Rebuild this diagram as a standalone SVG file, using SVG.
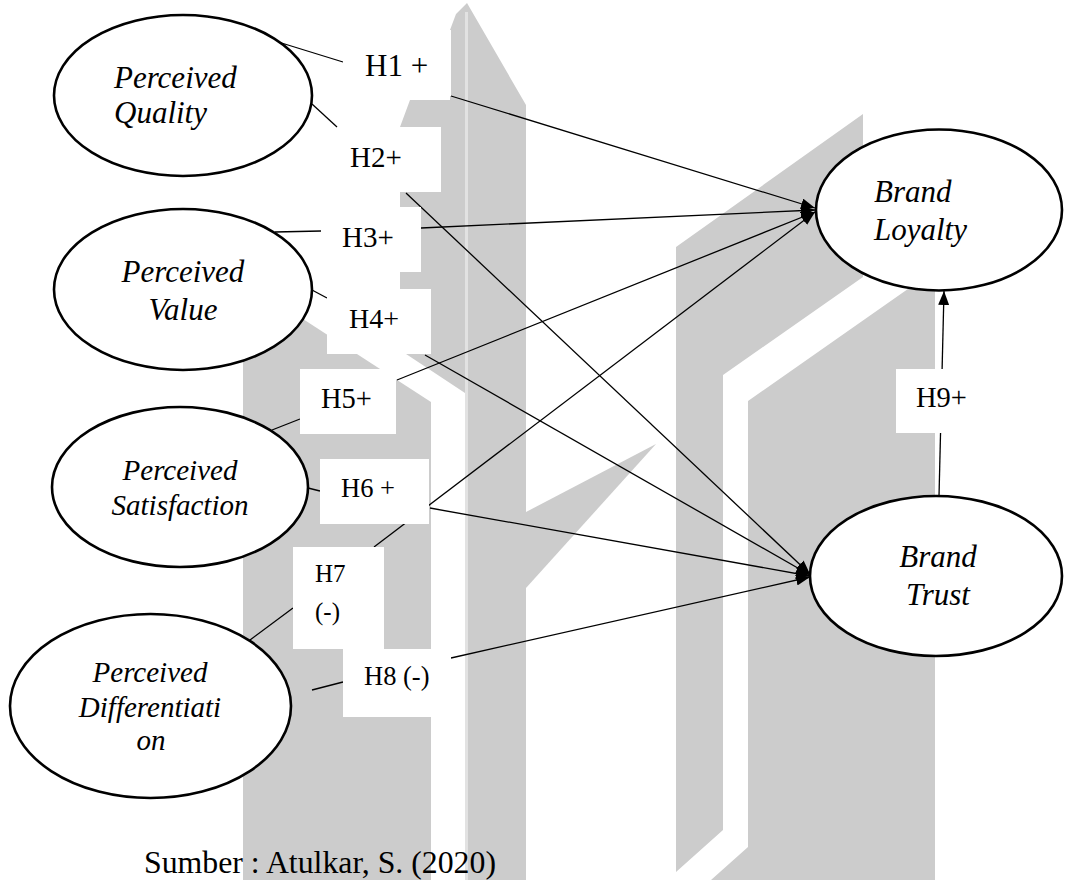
<svg xmlns="http://www.w3.org/2000/svg" width="1065" height="880" viewBox="0 0 1065 880">
<style>
.wm{fill:#cccccc}
.wl{fill:#e2e2e2}
.shape{fill:#fff;stroke:#000;stroke-width:2.6}
.box{fill:#fff}
.edge{stroke:#000;stroke-width:1.3;fill:none}
.arr{marker-end:url(#ah)}
</style>
<defs>
<marker id="ah" markerUnits="userSpaceOnUse" markerWidth="15" markerHeight="11" refX="14" refY="5.5" orient="auto"><path d="M0,0 L14,5.5 L0,11 z" fill="#000"/></marker>
</defs>
<rect width="1065" height="880" fill="#fff"/>
<g id="watermark">
<polygon class="wm" points="400,127 410,100 450,100 450,30 456,14 467,3 526,105 526,880 465,880 465,393 400,350"/>
<rect class="wl" x="465" y="12" width="3" height="868"/>
<polygon class="wm" points="243,280 431,402 431,880 243,880"/>
<polygon class="wm" points="526,512 656,444 526,588"/>
<polygon class="wm" points="676,247 863,114 863,277 723,375 723,830 676,872"/>
<polygon class="wm" points="748,401 935,270 935,880 711,880 748,847"/>
</g>
<g id="connectors">
<line class="edge" x1="275" y1="41" x2="343" y2="62"/>
<line class="edge" x1="312" y1="104" x2="337" y2="127"/>
<line class="edge" x1="275" y1="232" x2="321" y2="231"/>
<line class="edge" x1="312" y1="290" x2="327" y2="298"/>
<line class="edge" x1="272" y1="430" x2="300" y2="419"/>
<line class="edge" x1="308" y1="488" x2="320" y2="491"/>
<line class="edge" x1="250" y1="640" x2="293" y2="608"/>
<line class="edge" x1="312" y1="690" x2="343" y2="682"/>
<line class="edge arr" x1="451" y1="96" x2="815" y2="208"/>
<line class="edge arr" x1="421" y1="228" x2="815" y2="210"/>
<line class="edge arr" x1="397" y1="380" x2="815" y2="212"/>
<line class="edge arr" x1="374" y1="547" x2="815" y2="212"/>
<line class="edge arr" x1="406" y1="193" x2="810" y2="574"/>
<line class="edge arr" x1="425" y1="355" x2="810" y2="575"/>
<line class="edge arr" x1="430" y1="508" x2="810" y2="576"/>
<line class="edge arr" x1="451" y1="658" x2="810" y2="577"/>
<line class="edge arr" x1="939" y1="496" x2="944" y2="291"/>
</g>
<g id="label-H1"><rect class="box" x="343" y="30" width="108" height="66"/><text x="365" y="76" font-family="Liberation Serif, serif" font-size="31">H1 +</text></g>
<g id="label-H2"><rect class="box" x="337" y="127" width="104" height="65"/><text x="350" y="167" font-family="Liberation Serif, serif" font-size="29">H2+</text></g>
<g id="label-H3"><rect class="box" x="321" y="207" width="100" height="65"/><text x="342" y="247" font-family="Liberation Serif, serif" font-size="29">H3+</text></g>
<g id="label-H4"><rect class="box" x="327" y="289" width="104" height="65"/><text x="349" y="328" font-family="Liberation Serif, serif" font-size="28">H4+</text></g>
<g id="label-H5"><rect class="box" x="300" y="369" width="96" height="65"/><text x="321" y="408" font-family="Liberation Serif, serif" font-size="28.5">H5+</text></g>
<g id="label-H6"><rect class="box" x="320" y="459" width="109" height="65"/><text x="341" y="497" font-family="Liberation Serif, serif" font-size="26.5">H6 +</text></g>
<g id="label-H7"><rect class="box" x="293" y="547" width="91" height="102"/><text x="315" y="582" font-family="Liberation Serif, serif" font-size="25">H7</text><text x="315" y="620" font-family="Liberation Serif, serif" font-size="25">(-)</text></g>
<g id="label-H8"><rect class="box" x="343" y="649" width="108" height="68"/><text x="364" y="685" font-family="Liberation Serif, serif" font-size="26.5">H8 (-)</text></g>
<g id="label-H9"><rect class="box" x="896" y="369" width="89" height="64"/><text x="916" y="407" font-family="Liberation Serif, serif" font-size="28.5">H9+</text></g>
<g id="node-perceived-quality"><ellipse class="shape" cx="183" cy="95.5" rx="129" ry="80.5"/><text x="114" y="88" font-family="Liberation Serif, serif" font-style="italic" font-size="31">Perceived</text><text x="114" y="123" font-family="Liberation Serif, serif" font-style="italic" font-size="31">Quality</text></g>
<g id="node-perceived-value"><ellipse class="shape" cx="183" cy="289.5" rx="129" ry="80.5"/><text x="183" y="282" text-anchor="middle" font-family="Liberation Serif, serif" font-style="italic" font-size="31">Perceived</text><text x="183" y="320" text-anchor="middle" font-family="Liberation Serif, serif" font-style="italic" font-size="31">Value</text></g>
<g id="node-perceived-satisfaction"><ellipse class="shape" cx="180" cy="487" rx="128" ry="80"/><text x="180" y="480" text-anchor="middle" font-family="Liberation Serif, serif" font-style="italic" font-size="29">Perceived</text><text x="180" y="515" text-anchor="middle" font-family="Liberation Serif, serif" font-style="italic" font-size="29">Satisfaction</text></g>
<g id="node-perceived-differentiation"><ellipse class="shape" cx="150.5" cy="706" rx="140.5" ry="92"/><text x="150" y="682" text-anchor="middle" font-family="Liberation Serif, serif" font-style="italic" font-size="29">Perceived</text><text x="150" y="717" text-anchor="middle" font-family="Liberation Serif, serif" font-style="italic" font-size="29">Differentiati</text><text x="151" y="750" text-anchor="middle" font-family="Liberation Serif, serif" font-style="italic" font-size="29">on</text></g>
<g id="node-brand-loyalty"><ellipse class="shape" cx="939" cy="210" rx="123" ry="80.5"/><text x="874" y="202" font-family="Liberation Serif, serif" font-style="italic" font-size="31">Brand</text><text x="874" y="240" font-family="Liberation Serif, serif" font-style="italic" font-size="31">Loyalty</text></g>
<g id="node-brand-trust"><ellipse class="shape" cx="936" cy="576" rx="126" ry="80"/><text x="938" y="567" text-anchor="middle" font-family="Liberation Serif, serif" font-style="italic" font-size="31">Brand</text><text x="938" y="605" text-anchor="middle" font-family="Liberation Serif, serif" font-style="italic" font-size="31">Trust</text></g>
<text id="source" x="144" y="873" font-family="Liberation Serif, serif" font-size="31.8">Sumber : Atulkar, S. (2020)</text>
</svg>
